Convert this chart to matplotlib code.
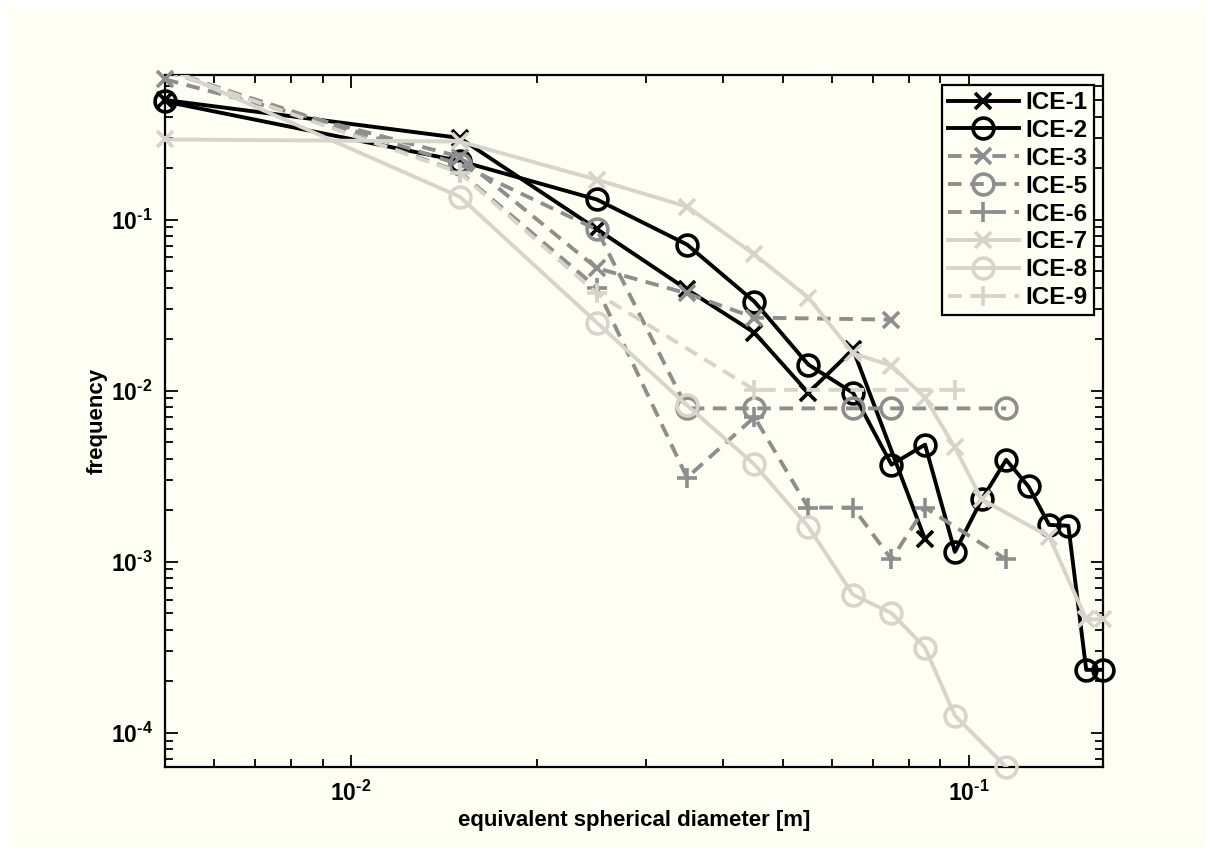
import matplotlib
matplotlib.use("Agg")
import matplotlib.pyplot as plt
from matplotlib.patches import Rectangle
from matplotlib.lines import Line2D
from matplotlib.ticker import LogLocator, FuncFormatter, NullFormatter
import numpy as np

# Data (bin centres in m, frequency)
x_ice1 = [0.005, 0.015, 0.025, 0.035, 0.045, 0.055, 0.065, 0.085]
y_ice1 = [0.50, 0.30, 0.088, 0.039, 0.0218, 0.0097, 0.0174, 0.00135]

x_ice2 = [0.005, 0.015, 0.025, 0.035, 0.045, 0.055, 0.065, 0.075, 0.085,
          0.095, 0.105, 0.115, 0.125, 0.135, 0.145, 0.155, 0.165]
y_ice2 = [0.49, 0.22, 0.131, 0.0714, 0.0331, 0.0142, 0.0097, 0.00369, 0.00483,
          0.00114, 0.00231, 0.00394, 0.00275, 0.00164, 0.00162, 0.000233, 0.000233]

x_ice3 = [0.005, 0.015, 0.025, 0.035, 0.045, 0.075]
y_ice3 = [0.66, 0.233, 0.052, 0.037, 0.0267, 0.026]

x_ice5 = [0.005, 0.015, 0.025, 0.035, 0.045, 0.065, 0.075, 0.115]
y_ice5 = [0.74, 0.21, 0.0875, 0.00787, 0.00787, 0.00787, 0.00787, 0.00787]

x_ice6 = [0.005, 0.015, 0.025, 0.035, 0.045, 0.055, 0.065, 0.075, 0.085, 0.115]
y_ice6 = [0.76, 0.19, 0.040, 0.0031, 0.0070, 0.00207, 0.00207, 0.00103, 0.00207, 0.00103]

x_ice7 = [0.005, 0.015, 0.025, 0.035, 0.045, 0.055, 0.065, 0.075, 0.085,
          0.095, 0.105, 0.135, 0.155, 0.165]
y_ice7 = [0.294, 0.286, 0.171, 0.119, 0.0625, 0.035, 0.0165, 0.0140, 0.0091,
          0.00465, 0.00231, 0.0014, 0.00046, 0.00046]

x_ice8 = [0.005, 0.015, 0.025, 0.035, 0.045, 0.055, 0.065, 0.075, 0.085, 0.095, 0.115]
y_ice8 = [0.78, 0.136, 0.025, 0.0082, 0.0037, 0.0016, 0.00064, 0.00050, 0.000314,
          0.000126, 0.000063]

x_ice9 = [0.005, 0.015, 0.025, 0.045, 0.095]
y_ice9 = [0.75, 0.188, 0.037, 0.0101, 0.0101]

labels = ['ICE-1', 'ICE-2', 'ICE-3', 'ICE-5', 'ICE-6', 'ICE-7', 'ICE-8', 'ICE-9']

XLIM = (0.005, 0.165)
YLIM = (6.3e-5, 0.70)

BG = '#fefef2'
BLACK = 'black'
DARK = '#8e8e8e'
LIGHT = '#d7d4cb'

plt.rcParams['font.family'] = ['Liberation Sans', 'DejaVu Sans']
plt.rcParams['font.weight'] = 'bold'
plt.rcParams['mathtext.fontset'] = 'custom'
plt.rcParams['mathtext.rm'] = 'Liberation Sans:bold'
plt.rcParams['mathtext.bf'] = 'Liberation Sans:bold'

fig = plt.figure(figsize=(12.13, 8.52), dpi=100, facecolor='white')
fig.patches.append(Rectangle((7/1213, 7/852), 1 - 14/1213, 1 - 14/852,
                             transform=fig.transFigure, facecolor=BG,
                             edgecolor='none', zorder=-10))
ax = fig.add_axes([165/1213, 1 - 767/852, (1103 - 165)/1213, (767 - 75)/852])
ax.set_facecolor(BG)

lw = 2.8
mew = 2.6
dash = (3.5, 2.2)
series = [
    (x_ice1, y_ice1, BLACK, '-', 'x', 12),
    (x_ice2, y_ice2, BLACK, '-', 'o', 15),
    (x_ice3, y_ice3, DARK, '--', 'x', 12),
    (x_ice5, y_ice5, DARK, '--', 'o', 15),
    (x_ice6, y_ice6, DARK, '--', '+', 14),
    (x_ice7, y_ice7, LIGHT, '-', 'x', 12),
    (x_ice8, y_ice8, LIGHT, '-', 'o', 15),
    (x_ice9, y_ice9, LIGHT, '--', '+', 14),
]
# draw lighter series first so the black ones sit on top
order = [6, 7, 5, 2, 3, 4, 0, 1]
handles = [None] * len(series)
for i in order:
    xs, ys, c, ls, mk, ms = series[i]
    xs = np.asarray(xs)
    ys = np.asarray(ys)
    kw = dict(dashes=dash) if ls == '--' else {}
    # line is clipped at the box, markers inside the limits are drawn whole
    ax.plot(xs, ys, color=c, linestyle=ls, linewidth=lw, zorder=3 + i, **kw)
    inside = (ys <= YLIM[1]) & (ys >= YLIM[0] * 0.99)
    ax.plot(xs[inside], ys[inside], linestyle='none', marker=mk, markersize=ms,
            markeredgewidth=mew, markerfacecolor='none', markeredgecolor=c,
            zorder=3 + i, clip_on=False)
    handles[i] = Line2D([], [], color=c, linestyle=ls, linewidth=lw, marker=mk,
                        markersize=ms, markeredgewidth=mew, markerfacecolor='none',
                        markeredgecolor=c, label=labels[i], **kw)

ax.set_xscale('log')
ax.set_yscale('log')
ax.set_xlim(*XLIM)
ax.set_ylim(*YLIM)

def fmt(v, pos):
    e = int(round(np.log10(v)))
    sign = '\u2010' if e < 0 else ''
    return r'$\mathbf{10^{%s%d}}$' % (sign, abs(e))

ax.xaxis.set_major_locator(LogLocator(base=10, numticks=10))
ax.yaxis.set_major_locator(LogLocator(base=10, numticks=10))
ax.xaxis.set_minor_locator(LogLocator(base=10, subs=np.arange(2, 10), numticks=20))
ax.yaxis.set_minor_locator(LogLocator(base=10, subs=np.arange(2, 10), numticks=20))
ax.xaxis.set_major_formatter(FuncFormatter(fmt))
ax.yaxis.set_major_formatter(FuncFormatter(fmt))
ax.xaxis.set_minor_formatter(NullFormatter())
ax.yaxis.set_minor_formatter(NullFormatter())
ax.tick_params(which='both', direction='in', top=True, right=True,
               width=1.3, labelsize=16.5)
ax.tick_params(axis='x', pad=10)
ax.tick_params(axis='y', pad=9)
ax.tick_params(which='major', length=9)
ax.tick_params(which='minor', length=6)
for s in ax.spines.values():
    s.set_linewidth(1.6)

ax.set_xlabel('equivalent spherical diameter [m]', fontsize=16, fontweight='bold', labelpad=3)
ax.set_ylabel('frequency', fontsize=16, fontweight='bold', labelpad=2)

leg = ax.legend(handles=handles, loc='upper right', fontsize=17.5,
                handlelength=2.9, handletextpad=0.3, labelspacing=0.2,
                borderpad=0.25, borderaxespad=0, fancybox=False, framealpha=1,
                facecolor=BG, edgecolor='black',
                bbox_to_anchor=(1 - 9/938, 1 - 10/692))
leg.get_frame().set_linewidth(1.6)
leg.set_zorder(20)

fig.savefig('out.png', dpi=100, facecolor=fig.get_facecolor())
